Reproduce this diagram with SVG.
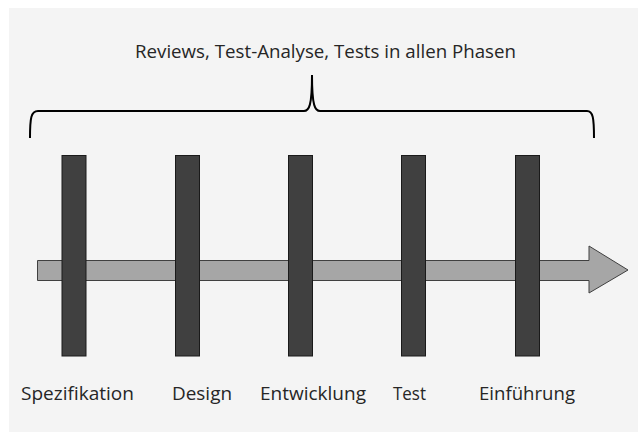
<svg xmlns="http://www.w3.org/2000/svg" width="638" height="432" viewBox="0 0 638 432">
  <style>
    .lbl { font-family: "Open Sans", "Liberation Sans", sans-serif; font-size: 19px; fill: #262626; }
    .bar { fill: #404040; stroke: #1a1a1a; stroke-width: 1; }
    .shaft { fill: #a6a6a6; stroke: #404040; stroke-width: 1; }
    .brace { fill: none; stroke: #000; stroke-width: 2; }
  </style>
  <rect x="9" y="8" width="629" height="424" fill="#f4f4f4"/>
  <g id="title">
    <text class="lbl" x="135" y="58" textLength="381" lengthAdjust="spacingAndGlyphs">Reviews, Test-Analyse, Tests in allen Phasen</text>
  </g>
  <g id="brace">
    <path class="brace" d="M30,138 C30,118 31,111 38,111 L304,111 C309,111 312,106 312,75 C312,106 315,111 320,111 L587,111 C593,111 594,118 594,138"/>
  </g>
  <g id="timeline">
    <path class="shaft" d="M37.5,260.5 L589,260.5 L589,246 L628,270 L589,293 L589,280.5 L37.5,280.5 Z"/>
  </g>
  <g id="phase-spezifikation">
    <rect class="bar" x="62" y="155.5" width="24" height="200.5"/>
    <text class="lbl" x="21" y="400" textLength="113" lengthAdjust="spacingAndGlyphs">Spezifikation</text>
  </g>
  <g id="phase-design">
    <rect class="bar" x="175.5" y="155.5" width="24" height="200.5"/>
    <text class="lbl" x="172" y="400" textLength="60" lengthAdjust="spacingAndGlyphs">Design</text>
  </g>
  <g id="phase-entwicklung">
    <rect class="bar" x="288.5" y="155.5" width="24" height="200.5"/>
    <text class="lbl" x="260" y="400" textLength="106" lengthAdjust="spacingAndGlyphs">Entwicklung</text>
  </g>
  <g id="phase-test">
    <rect class="bar" x="401.5" y="155.5" width="24" height="200.5"/>
    <text class="lbl" x="393" y="400" textLength="33" lengthAdjust="spacingAndGlyphs">Test</text>
  </g>
  <g id="phase-einfuehrung">
    <rect class="bar" x="515.5" y="155.5" width="24" height="200.5"/>
    <text class="lbl" x="479" y="400" textLength="96" lengthAdjust="spacingAndGlyphs">Einführung</text>
  </g>
</svg>
